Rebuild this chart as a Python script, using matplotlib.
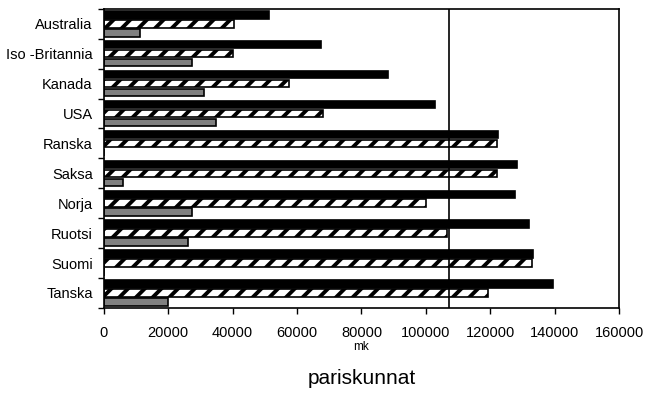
import numpy as np
import matplotlib.pyplot as plt

plt.rcParams['font.family'] = ['Liberation Sans', 'DejaVu Sans']
plt.rcParams['hatch.linewidth'] = 2.8

countries = ['Tanska', 'Suomi', 'Ruotsi', 'Norja', 'Saksa', 'Ranska',
             'USA', 'Kanada', 'Iso -Britannia', 'Australia']
black_vals = [139400, 133200, 132000, 127700, 128200, 122400,
              102800, 88200, 67400, 51300]
hatch_vals = [119300, 133000, 106500, 100000, 122000, 122200,
              68000, 57500, 40200, 40300]
gray_vals = [19900, 0, 26000, 27300, 6000, 0,
             34800, 31000, 27300, 11200]
ref_line = 107200
xticks = np.arange(0, 160001, 20000)

fig = plt.figure(figsize=(6.49, 4.03), dpi=100)
ax = fig.add_axes([0.160, 0.236, 0.794, 0.742])

y = np.arange(len(countries))
h = 0.25
ax.barh(y + 0.3, black_vals, height=h, color='black', edgecolor='black', linewidth=1.2)
ax.barh(y, hatch_vals, height=h, color='white', edgecolor='black', linewidth=1.2, hatch='//')
ax.barh(y - 0.3, gray_vals, height=h, color='#808080', edgecolor='black', linewidth=1.2)

ax.axvline(ref_line, color='black', linewidth=1.2)

ax.set_xlim(0, 160000)
ax.set_ylim(-0.5, len(countries) - 0.5)
ax.set_xticks(xticks)
ax.set_xticklabels([str(v) for v in xticks], fontsize=10.5)
ax.set_yticks(y)
ax.set_yticklabels(countries, fontsize=10.5)
ax.set_yticks(np.arange(-0.5, len(countries), 1), minor=True)
ax.tick_params(axis='y', which='major', length=0, pad=8)
ax.tick_params(axis='y', which='minor', length=4, width=1, direction='out')
ax.tick_params(axis='x', which='major', length=4, width=1, direction='out', pad=9)

for s in ax.spines.values():
    s.set_linewidth(1.2)

ax.set_xlabel('mk', fontsize=8.5, labelpad=1)
fig.text(0.557, 0.062, 'pariskunnat', ha='center', va='center', fontsize=15)

fig.savefig('out.png', dpi=100)
